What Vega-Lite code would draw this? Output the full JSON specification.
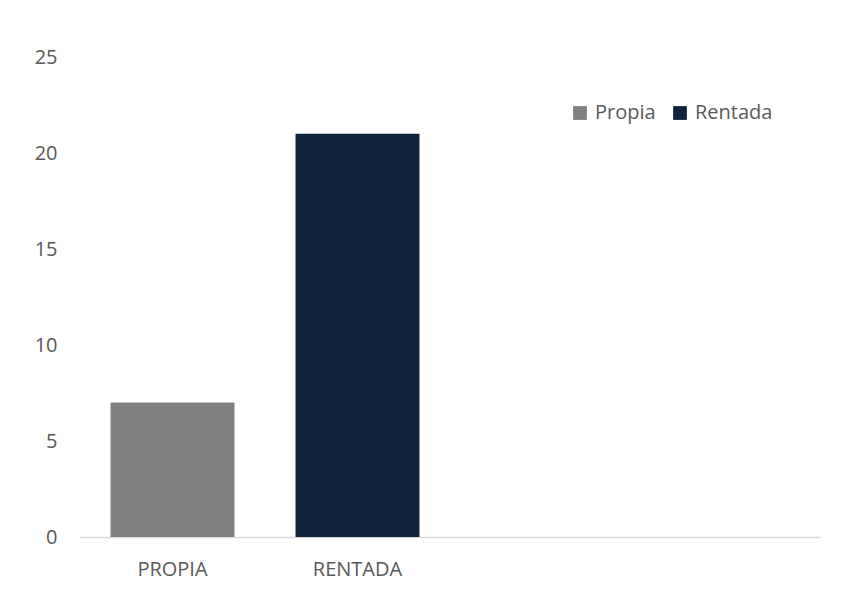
{
  "$schema": "https://vega.github.io/schema/vega-lite/v6.json",
  "width": 740,
  "height": 480,
  "autosize": "none",
  "padding": {"left": 80, "top": 57, "right": 48, "bottom": 59},
  "background": "white",
  "config": {
    "view": {"stroke": null},
    "font": "Open Sans"
  },
  "data": {
    "values": [
      {"categoria": "PROPIA", "serie": "Propia", "valor": 7},
      {"categoria": "RENTADA", "serie": "Rentada", "valor": 21}
    ]
  },
  "mark": {"type": "bar"},
  "encoding": {
    "x": {
      "field": "categoria",
      "type": "nominal",
      "scale": {"domain": ["PROPIA", "RENTADA", " ", "  "], "paddingInner": 0.33, "paddingOuter": 0.165},
      "axis": {
        "title": null,
        "labelAngle": 0,
        "labelFontSize": 20,
        "labelColor": "#595959",
        "labelPadding": 22,
        "ticks": false,
        "domainColor": "#d9d9d9",
        "domainWidth": 1.5,
        "grid": false
      }
    },
    "y": {
      "field": "valor",
      "type": "quantitative",
      "scale": {"domain": [0, 25]},
      "axis": {
        "title": null,
        "values": [0, 5, 10, 15, 20, 25],
        "labelFontSize": 20,
        "labelColor": "#595959",
        "labelPadding": 23,
        "ticks": false,
        "domain": false,
        "grid": false
      }
    },
    "color": {
      "field": "serie",
      "type": "nominal",
      "scale": {"domain": ["Propia", "Rentada"], "range": ["#808080", "#10243E"]},
      "legend": {
        "title": null,
        "orient": "none",
        "direction": "horizontal",
        "legendX": 490,
        "legendY": 46,
        "symbolType": "square",
        "symbolSize": 190,
        "labelFontSize": 20,
        "labelColor": "#595959",
        "columnPadding": 14,
        "labelOffset": 5
      }
    }
  }
}
